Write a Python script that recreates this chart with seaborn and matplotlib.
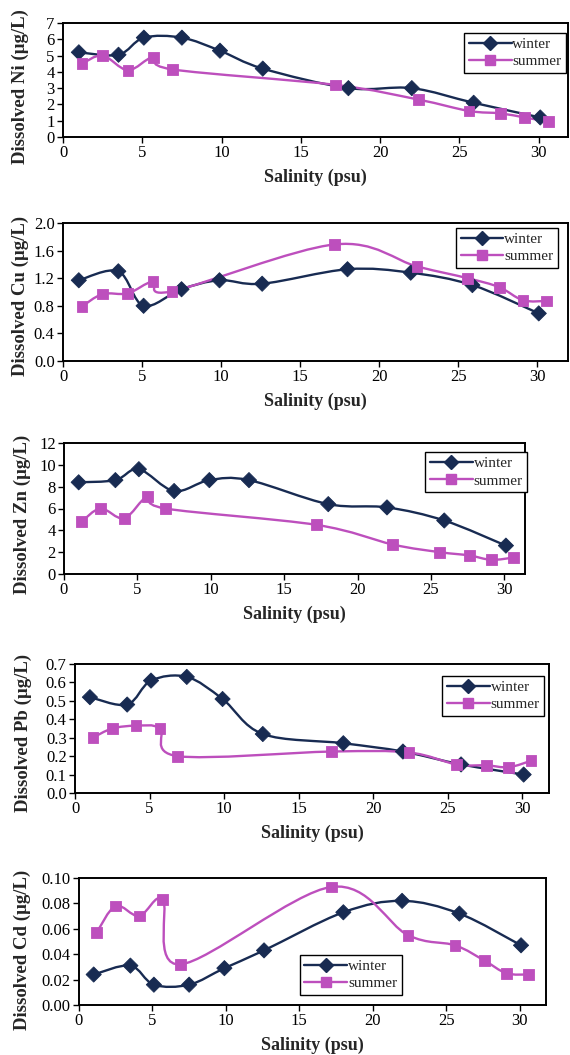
import numpy as np
import pandas as pd
import matplotlib
matplotlib.use("Agg")
import matplotlib.pyplot as plt
from matplotlib.path import Path
from matplotlib.patches import PathPatch
from matplotlib.lines import Line2D
from matplotlib.ticker import FormatStrFormatter
import seaborn as sns

# ---------------- data ----------------
sal_winter = [1.0, 3.5, 5.1, 7.5, 9.9, 12.6, 18.0, 22.0, 25.9, 30.1]
sal_summer = [1.2, 2.5, 4.1, 5.7, 6.9, 17.2, 22.4, 25.6, 27.6, 29.1, 30.6]

ni_winter = [5.2, 5.05, 6.1, 6.1, 5.3, 4.2, 3.0, 3.0, 2.1, 1.2]
ni_summer = [4.5, 5.0, 4.1, 4.9, 4.15, 3.2, 2.3, 1.6, 1.45, 1.2, 0.95]

cu_winter = [1.17, 1.30, 0.80, 1.04, 1.17, 1.12, 1.33, 1.28, 1.10, 0.69]
cu_summer = [0.79, 0.97, 0.98, 1.15, 1.01, 1.69, 1.37, 1.20, 1.07, 0.88, 0.87]

zn_winter = [8.4, 8.6, 9.6, 7.6, 8.6, 8.6, 6.4, 6.1, 4.9, 2.6]
zn_summer = [4.8, 6.0, 5.1, 7.1, 6.0, 4.5, 2.7, 2.0, 1.7, 1.3, 1.5]

pb_winter = [0.52, 0.48, 0.61, 0.63, 0.51, 0.32, 0.27, 0.225, 0.155, 0.10]
pb_summer = [0.30, 0.35, 0.365, 0.35, 0.20, 0.225, 0.22, 0.155, 0.15, 0.14, 0.175]

cd_winter = [0.024, 0.031, 0.016, 0.016, 0.029, 0.043, 0.073, 0.082, 0.072, 0.047]
cd_summer = [0.057, 0.078, 0.070, 0.083, 0.032, 0.093, 0.055, 0.047, 0.035, 0.025, 0.024]

metals = ["Ni", "Cu", "Zn", "Pb", "Cd"]
winter_vals = [ni_winter, cu_winter, zn_winter, pb_winter, cd_winter]
summer_vals = [ni_summer, cu_summer, zn_summer, pb_summer, cd_summer]
y_ticks = [
    [0, 1, 2, 3, 4, 5, 6, 7],
    [0.0, 0.4, 0.8, 1.2, 1.6, 2.0],
    [0, 2, 4, 6, 8, 10, 12],
    [0.0, 0.1, 0.2, 0.3, 0.4, 0.5, 0.6, 0.7],
    [0.00, 0.02, 0.04, 0.06, 0.08, 0.10],
]
y_fmt = ["%d", "%.1f", "%d", "%.1f", "%.2f"]
x_ticks = [0, 5, 10, 15, 20, 25, 30]
series_names = ["winter", "summer"]

# ---------------- style ----------------
sns.set_theme(style="ticks")
plt.rcParams["font.family"] = ["Liberation Serif", "DejaVu Serif"]

WINTER = "#182b52"
SUMMER = "#bd4fbd"
colors = {"winter": WINTER, "summer": SUMMER}
markers = {"winter": "D", "summer": "s"}

W, H = 570, 1055
fig = plt.figure(figsize=(W / 100, H / 100), dpi=100)

# pixel boxes: left, right, top, bottom
boxes = [
    (63, 568, 23, 137),
    (63, 568, 223, 361),
    (64, 525, 443, 574),
    (75, 549, 664, 793),
    (79, 546, 878, 1005),
]
ylabel_right_px = [29, 29, 31, 32, 31]
ylabel_shift_px = [7, 4, 6, 4, 8]
xmax = [31.85, 31.95, 31.4, 31.8, 31.8]
legend_loc = [
    ("upper right", (0.996, 0.912)),
    ("upper right", (0.980, 0.964)),
    ("upper right", (1.005, 0.930)),
    ("upper right", (0.990, 0.907)),
    ("upper left", (0.473, 0.394)),
]


def smooth_path(xs, ys):
    pts = np.column_stack([xs, ys]).astype(float)
    n = len(pts)
    verts = [pts[0]]
    codes = [Path.MOVETO]
    for i in range(n - 1):
        p0 = pts[i - 1] if i > 0 else pts[i]
        p1 = pts[i]
        p2 = pts[i + 1]
        p3 = pts[i + 2] if i + 2 < n else pts[i + 1]
        c1 = p1 + (p2 - p0) / 6.0
        c2 = p2 - (p3 - p1) / 6.0
        verts += [c1, c2, p2]
        codes += [Path.CURVE4] * 3
    return Path(verts, codes)


for k, metal in enumerate(metals):
    l, r, t, b = boxes[k]
    ax = fig.add_axes([l / W, 1 - b / H, (r - l) / W, (b - t) / H])
    df = pd.concat([
        pd.DataFrame({"sal": sal_winter, "val": winter_vals[k], "season": "winter"}),
        pd.DataFrame({"sal": sal_summer, "val": summer_vals[k], "season": "summer"}),
    ], ignore_index=True)

    for name in series_names:
        sub = df[df.season == name]
        path = smooth_path(sub.sal.values, sub.val.values)
        ax.add_patch(PathPatch(path, facecolor="none", edgecolor=colors[name],
                               lw=1.7, zorder=2))
    sns.scatterplot(data=df, x="sal", y="val", hue="season", style="season",
                    palette=colors, markers=markers, ax=ax, legend=False,
                    s=60, linewidth=0.6, edgecolor=None, zorder=3)
    for coll in ax.collections:
        coll.set_edgecolor(coll.get_facecolor())

    ax.set_xlim(0, xmax[k])
    ax.set_ylim(y_ticks[k][0], y_ticks[k][-1])
    ax.set_xticks(x_ticks)
    ax.set_yticks(y_ticks[k])
    ax.yaxis.set_major_formatter(FormatStrFormatter(y_fmt[k]))
    ax.tick_params(axis="both", direction="out", length=4, width=1.0,
                   labelsize=12, colors="black", pad=2)
    for sp in ax.spines.values():
        sp.set_visible(True)
        sp.set_color("black")
        sp.set_linewidth(1.4)
    ax.set_xlabel("Salinity (psu)", fontsize=13, fontweight="bold", labelpad=5)
    ax.set_ylabel("Dissolved %s (\u00b5g/L)" % metal, fontsize=13.5,
                  fontweight="bold")
    ax.yaxis.set_label_coords((ylabel_right_px[k] - l) / (r - l),
                              0.5 - ylabel_shift_px[k] / (b - t))
    ax.set_facecolor("white")

    handles = [Line2D([], [], color=colors[n], marker=markers[n], lw=1.7,
                      markersize=7.5 if n == "winter" else 7) for n in series_names]
    loc, anchor = legend_loc[k]
    leg = ax.legend(handles, series_names, loc=loc, bbox_to_anchor=anchor,
                    frameon=True, fancybox=False, edgecolor="black",
                    framealpha=1, fontsize=11, handlelength=2.8,
                    handletextpad=0.05, borderpad=0.3, labelspacing=0.22,
                    borderaxespad=0)
    leg.get_frame().set_linewidth(1.0)

fig.savefig("out.png", dpi=100, facecolor="white")
